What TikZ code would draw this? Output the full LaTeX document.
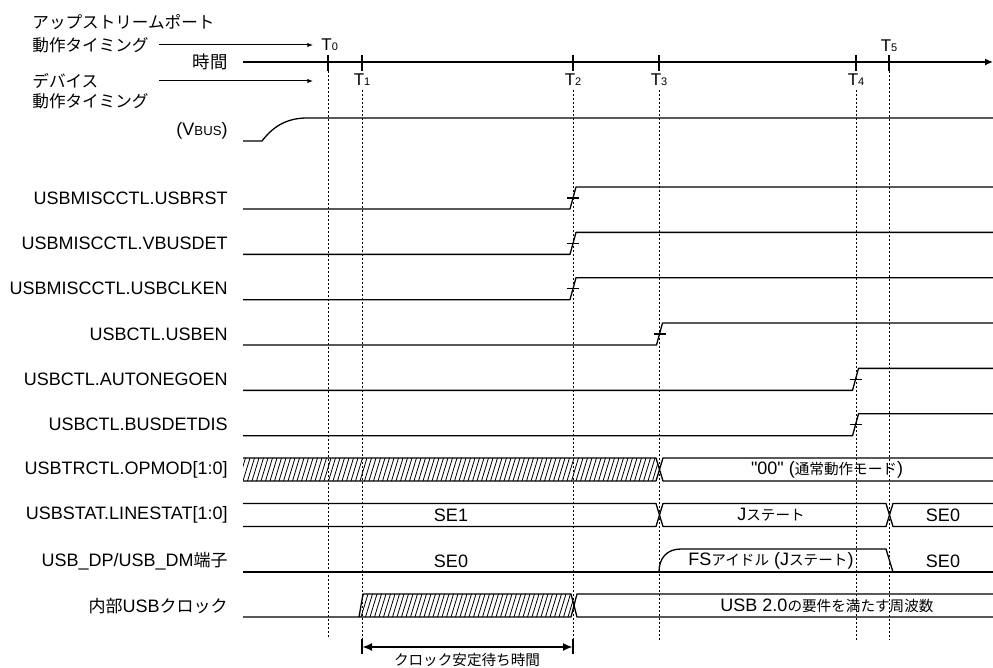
\documentclass[tikz,border=0pt]{standalone}
\usepackage{fontspec}
\usepackage{tikz}
\usetikzlibrary{arrows.meta,positioning}
\newfontfamily\latfont{Liberation Sans}
\newfontfamily\jpfont{Noto Sans CJK JP}
\newcommand\jb[1]{{\jpfont\fontsize{7.3}{8}\selectfont #1}}
\newcommand\jl[1]{{\jpfont\fontsize{8.5}{9}\selectfont #1}}
\newcommand\jh[1]{{\jpfont\fontsize{8.3}{9}\selectfont #1}}
\newcommand\tsub[2]{#1{\fontsize{5.5}{6}\selectfont #2}}

\begin{document}
\begin{tikzpicture}[
x=0.5pt, y=-0.5pt,
every node/.style={inner sep=0pt, font=\latfont\fontsize{9}{10}\selectfont},
lbl/.style={anchor=east},
tlbl/.style={anchor=base, font=\latfont\fontsize{8.5}{9}\selectfont},
wave/.style={line width=0.65pt, line join=round},
guide/.style={line width=0.45pt, dash pattern=on 1pt off 1pt},
tick/.style={line width=0.6pt},
hatch/.style={line width=0.4pt},
hdrarrow/.style={-{Latex[length=2.8pt,width=2.2pt]}, line width=0.5pt, shorten <=5pt, shorten >=4pt},
axis/.style={-{Latex[length=4pt,width=3.6pt]}, line width=1.3pt},
dimarrow/.style={{Latex[length=5pt,width=4pt]}-{Latex[length=5pt,width=4pt]}, line width=1pt}
]
\useasboundingbox (0,0) rectangle (993,668);

\node[anchor=west] (up1) at (32,22) {\jh{アップストリームポート}};
\node[anchor=west] (up2) at (32,45) {\jh{動作タイミング}};
\node[anchor=west] (dev1) at (32,81) {\jh{デバイス}};
\node[anchor=west] (dev2) at (32,101) {\jh{動作タイミング}};
\node[lbl] (time) at (228,62) {{\jpfont\fontsize{8.7}{9}\selectfont 時間}};
\coordinate (axend) at (993,62);
\draw[axis] ([xshift=7.5pt]time.east) -- (axend);

\node[tlbl, anchor=base west] (t0) at (321,51) {\tsub{T}{0}};
\node[tlbl] (t1) at (362,86) {\tsub{T}{1}};
\node[tlbl] (t2) at (573,86) {\tsub{T}{2}};
\node[tlbl] (t3) at (659,86) {\tsub{T}{3}};
\node[tlbl] (t4) at (856,86) {\tsub{T}{4}};
\node[tlbl] (t5) at (889,52) {\tsub{T}{5}};
\draw[hdrarrow] (up2.east) -- (up2 -| t0.west);
\draw[hdrarrow] (dev1 -| up2.east) -- (dev1 -| t0.west);

\foreach \x in {328,362,573,659,856,889}
  \draw[tick] (\x,55) -- (\x,71);
\foreach \x/\a/\b in {328/71/638, 362/90/653, 573/90/653, 659/90/640, 856/90/640, 889/71/640}
  \draw[guide] (\x,\a) -- (\x,\b);

\node[lbl] (vbus) at (228,131) {(V{\fontsize{6.6}{7}\selectfont BUS})};
\draw[wave] (243,141) -- (262,141) .. controls (272,128) and (285,118) .. (307,118) -- (993,118);

\foreach \txt/\yl/\te [count=\i] in {USBMISCCTL.USBRST/209/573, USBMISCCTL.VBUSDET/254.4/573,
  USBMISCCTL.USBCLKEN/299.7/573, USBCTL.USBEN/345/659.5, USBCTL.AUTONEGOEN/390.4/855.5,
  USBCTL.BUSDETDIS/435.8/855.5}{
  \node[lbl] (reg\i) at (228,{\yl-11}) {\txt};
  \draw[wave] (243,\yl) -- ({\te-3},\yl) -- ({\te+3},{\yl-22}) -- (993,{\yl-22});
  \draw[wave] ({\te-6},{\yl-11}) -- ({\te+6},{\yl-11});
}

\node[lbl] (opmod) at (228,470) {USBTRCTL.OPMOD[1:0]};
\begin{scope}
\clip (243,458) -- (656,458) -- (659.5,469.5) -- (656,481) -- (243,481) -- cycle;
\foreach \x in {234,238.5,...,664}
  \draw[hatch] (\x,481) -- ({\x+7},458);
\end{scope}
\draw[wave] (243,458) -- (656,458) -- (663,481) -- (993,481);
\draw[wave] (243,481) -- (656,481) -- (663,458) -- (993,458);
\node (opval) at (827,470) {"00" (\jb{通常動作モード})};

\node[lbl] (linestat) at (228,515) {USBSTAT.LINESTAT[1:0]};
\draw[wave] (243,503.5) -- (656,503.5) -- (663,526.5) -- (886,526.5) -- (893,503.5) -- (993,503.5);
\draw[wave] (243,526.5) -- (656,526.5) -- (663,503.5) -- (886,503.5) -- (893,526.5) -- (993,526.5);
\node (lsse1) at (451,515) {SE1};
\node (lsj) at (771,515) {J\jb{ステート}};
\node (lsse0) at (943,515) {SE0};

\node[lbl] (dpdm) at (228,561) {USB\_DP/USB\_DM\jl{端子}};
\draw[wave] (243,572) -- (993,572);
\draw[wave] (659,572) .. controls (659,558) and (667,549) .. (681,549) -- (886,549) -- (893,572);
\node (dpse0a) at (451,561) {SE0};
\node (dpidle) at (771,561) {FS\jb{アイドル} (J\jb{ステート})};
\node (dpse0b) at (943,561) {SE0};

\node[lbl] (clk) at (228,606) {\jl{内部}USB\jl{クロック}};
\begin{scope}
\clip (359,617) -- (363,594) -- (571,594) -- (574,605.5) -- (571,617) -- cycle;
\foreach \x in {352,356.5,...,580}
  \draw[hatch] (\x,617) -- ({\x+7},594);
\end{scope}
\draw[wave] (243,617) -- (571,617) -- (577,594) -- (993,594);
\draw[wave] (359,617) -- (363,594) -- (571,594) -- (577,617) -- (993,617);
\node (clkval) at (827,606) {USB 2.0\jb{の要件を満たす周波数}};

\draw[tick] (362,639) -- (362,654);
\draw[tick] (573,639) -- (573,654);
\coordinate (wstart) at (362,647);
\coordinate (wend) at (573,647);
\draw[dimarrow] (wstart) -- (wend);
\node (wait) at (467,660) {\jb{クロック安定待ち時間}};
\end{tikzpicture}
\end{document}
